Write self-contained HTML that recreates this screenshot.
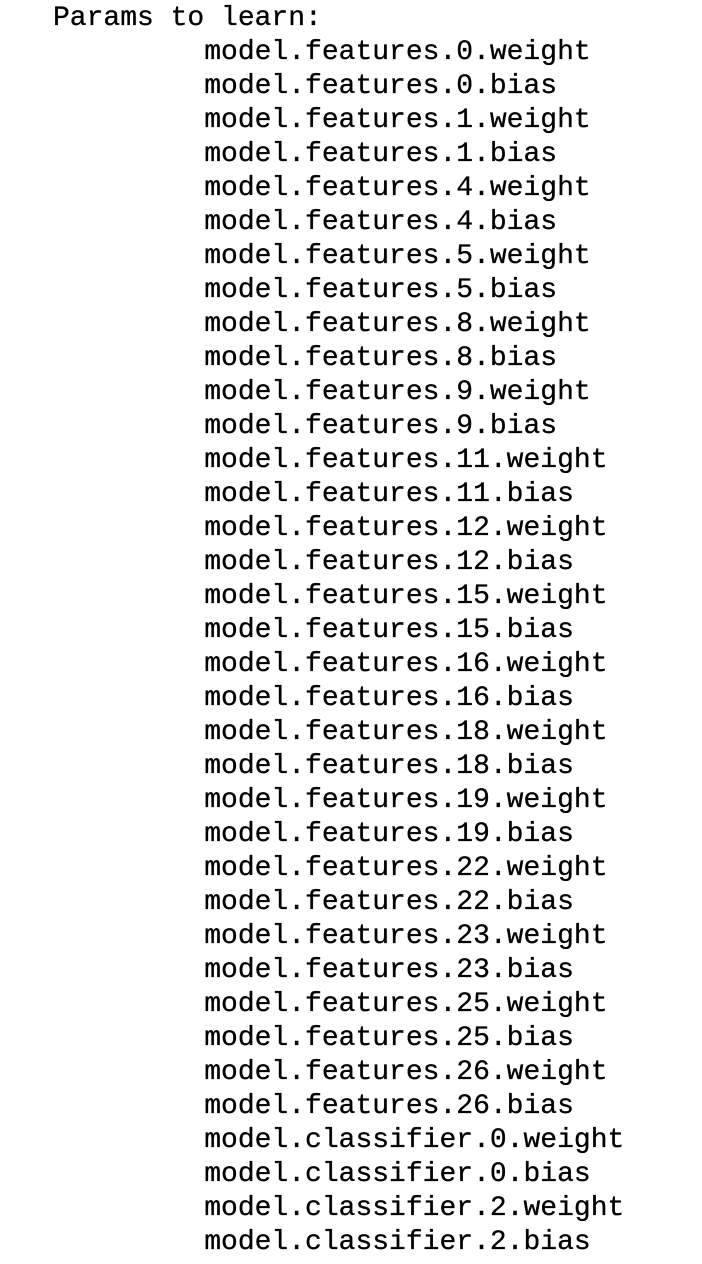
<!DOCTYPE html>
<html><head><meta charset="utf-8"><style>
html,body{margin:0;padding:0;background:#fff;width:702px;height:1264px;overflow:hidden}
pre{margin:0;position:absolute;left:53px;top:2px;font-family:"Liberation Mono",monospace;font-size:28px;line-height:34px;color:#000;-webkit-text-stroke:0.3px #000}
</style></head><body><pre>Params to learn:
         model.features.0.weight
         model.features.0.bias
         model.features.1.weight
         model.features.1.bias
         model.features.4.weight
         model.features.4.bias
         model.features.5.weight
         model.features.5.bias
         model.features.8.weight
         model.features.8.bias
         model.features.9.weight
         model.features.9.bias
         model.features.11.weight
         model.features.11.bias
         model.features.12.weight
         model.features.12.bias
         model.features.15.weight
         model.features.15.bias
         model.features.16.weight
         model.features.16.bias
         model.features.18.weight
         model.features.18.bias
         model.features.19.weight
         model.features.19.bias
         model.features.22.weight
         model.features.22.bias
         model.features.23.weight
         model.features.23.bias
         model.features.25.weight
         model.features.25.bias
         model.features.26.weight
         model.features.26.bias
         model.classifier.0.weight
         model.classifier.0.bias
         model.classifier.2.weight
         model.classifier.2.bias</pre></body></html>
